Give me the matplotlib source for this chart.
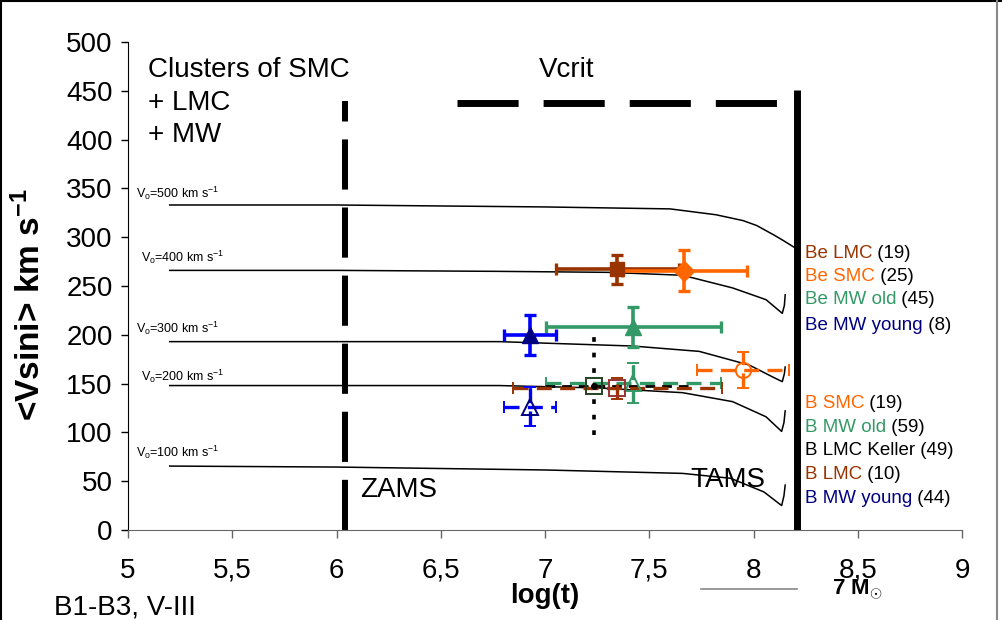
import matplotlib
matplotlib.use("Agg")
import matplotlib.pyplot as plt
from matplotlib.lines import Line2D

plt.rcParams['font.family'] = ['Liberation Sans', 'DejaVu Sans']
plt.rcParams['mathtext.fontset'] = 'custom'
plt.rcParams['mathtext.rm'] = 'Liberation Sans'
plt.rcParams['mathtext.it'] = 'Liberation Sans:italic'
plt.rcParams['mathtext.bf'] = 'Liberation Sans:bold'

# ---------------- data ----------------
x_ticks = [5, 5.5, 6, 6.5, 7, 7.5, 8, 8.5, 9]
x_tick_labels = ["5", "5,5", "6", "6,5", "7", "7,5", "8", "8,5", "9"]
y_ticks = [0, 50, 100, 150, 200, 250, 300, 350, 400, 450, 500]

# rotation model tracks (log t, <v sini>)
track500_t = [5.2, 6.0, 6.5, 7.0, 7.6, 7.82, 7.95, 8.015, 8.1, 8.14, 8.2]
track500_v = [333, 333, 332, 331, 329, 323, 317, 312, 302, 297, 289]
track400_t = [5.2, 6.0, 6.78, 7.3, 7.66, 7.9, 8.06, 8.138, 8.148, 8.152]
track400_v = [266, 266, 265, 264, 261, 248, 236, 222, 230, 241]
track300_t = [5.2, 6.0, 6.78, 7.42, 7.74, 7.98, 8.09, 8.138, 8.148, 8.152]
track300_v = [193, 193, 193, 188.5, 183, 169, 157, 152, 160, 167]
track200_t = [5.2, 6.0, 6.78, 7.26, 7.66, 7.9, 8.06, 8.135, 8.146, 8.152]
track200_v = [148, 148, 148, 145.5, 140.7, 131.5, 116, 101, 110, 122]
track100_t = [5.2, 6.0, 7.0, 7.66, 7.89, 8.05, 8.135, 8.146, 8.152]
track100_v = [65.5, 64.5, 61.5, 58, 53, 39, 25, 35, 46]
track_labels = ["500", "400", "300", "200", "100"]
track_label_t = [5.04, 5.06, 5.04, 5.06, 5.04]
track_label_v = [345, 279, 207, 157, 80]

zams_t = 6.04
zams_top = 440
tams_t = 8.207
tams_top = 451
vcrit_t = [6.58, 8.2]
vcrit_v = [437, 437]

# Be stars (filled markers, solid bars)
be_names = ["Be LMC", "Be SMC", "Be MW old", "Be MW young"]
be_counts = ["(19)", "(25)", "(45)", "(8)"]
be_t = [7.347, 7.668, 7.424, 6.928]
be_v = [267, 265.7, 208.3, 199.8]
be_terr = [0.294, 0.30, 0.42, 0.126]
be_verr = [15, 21, 20.5, 20]

# B stars (open markers, dashed bars)
b_names = ["B SMC", "B MW old", "B LMC Keller", "B LMC", "B MW young"]
b_counts = ["(19)", "(59)", "(49)", "(10)", "(44)"]
b_t = [7.948, 7.424, 7.235, 7.347, 6.928]
b_v = [163.9, 150.3, 147.5, 145, 126.3]
b_terr_lo = [0.22, 0.42, 0.235, 0.50, 0.126]
b_terr_hi = [0.22, 0.42, 0.465, 0.50, 0.126]
b_verr = [18, 20.5, 50, 11, 20]

# ---------------- styles ----------------
BROWN = "#993300"
ORANGE = "#FF6600"
GREEN = "#339966"
NAVY = "#000080"
BLUE = "#0000FF"
RED = "#993333"

fig = plt.figure(figsize=(10.02, 6.2), dpi=100)
ax = fig.add_axes([128/1002, 1-530/620, (962-128)/1002, (530-42)/620])
ax.set_xlim(5, 9)
ax.set_ylim(0, 500)
for s in ["top", "right"]:
    ax.spines[s].set_visible(False)
ax.spines["left"].set_color("black")
ax.spines["bottom"].set_color("#666666")
ax.set_xticks(x_ticks)
ax.set_xticklabels(x_tick_labels)
ax.set_yticks(y_ticks)
ax.tick_params(axis="x", direction="out", length=6, width=1, pad=14,
               labelsize=20, color="#666666")
ax.tick_params(axis="y", direction="out", length=5, width=1, pad=6,
               labelsize=20, color="black")

# tracks
for tt, vv in [(track500_t, track500_v), (track400_t, track400_v),
               (track300_t, track300_v), (track200_t, track200_v),
               (track100_t, track100_v)]:
    ax.plot(tt, vv, color="black", lw=1.1, zorder=2)
for lab, tx, vy in zip(track_labels, track_label_t, track_label_v):
    ax.text(tx, vy, r"V$_\mathrm{o}$=" + lab + r" km s$^{-1}$", fontsize=9,
            va="center", ha="left")

# ZAMS / TAMS / Vcrit lines
ax.plot([zams_t, zams_t], [0, zams_top], color="black", lw=4.3,
        dashes=(8.4, 3.0), solid_capstyle="butt", zorder=2)
ax.plot([tams_t, tams_t], [0, tams_top], color="black", lw=5,
        solid_capstyle="butt", zorder=5)
ax.plot(vcrit_t, vcrit_v, color="black", lw=5, dashes=(8.8, 3.6), zorder=2)

# Be errorbars
be_colors = [BROWN, ORANGE, GREEN, BLUE]
be_mfc = [BROWN, ORANGE, GREEN, NAVY]
be_markers = ["s", "D", "^", "^"]
be_ms = [10, 10, 11, 11]
for i in range(len(be_t)):
    ax.errorbar(be_t[i], be_v[i], xerr=be_terr[i], yerr=be_verr[i],
                fmt=be_markers[i], ms=be_ms[i], mfc=be_mfc[i], mec=be_mfc[i],
                ecolor=be_colors[i], elinewidth=2.6, capsize=4.3, capthick=2.4,
                zorder=4)

# B errorbars
b_colors = [ORANGE, GREEN, "black", BROWN, BLUE]
b_mec = [ORANGE, GREEN, "#224422", RED, NAVY]
b_markers = ["o", "^", "s", "s", "^"]
b_ms = [11, 12, 11, 11, 12]
for i in range(len(b_t)):
    eb = ax.errorbar(b_t[i], b_v[i], xerr=[[b_terr_lo[i]], [b_terr_hi[i]]],
                     yerr=b_verr[i], fmt=b_markers[i], ms=b_ms[i],
                     mfc="none", mec=b_mec[i], mew=1.4,
                     ecolor=b_colors[i], elinewidth=2.4, capsize=4.3,
                     capthick=2.2, zorder=4)
    bars = eb[2]
    if b_names[i] == "B LMC Keller":
        bars[0].set_linestyle((0, (3.5, 2.5)))
        bars[0].set_linewidth(2.0)
        bars[1].set_linestyle((0, (1.3, 3.0)))
        bars[1].set_linewidth(2.6)
        for c in eb[1]:
            c.set_visible(False)
        ax.plot(b_t[i], b_v[i], "o", color="black", ms=4, zorder=5)
    else:
        for b in bars:
            b.set_linestyle((0, (4.5, 2.5)))

# side labels (coloured name + black count)
be_label_v = [283.8, 260.2, 235.7, 210.0]
b_label_v = [130.0, 105.5, 81.0, 56.4, 31.8]
be_txt_colors = [BROWN, ORANGE, GREEN, NAVY]
b_txt_colors = [ORANGE, GREEN, "black", BROWN, NAVY]
for names, counts, ys, cols in [(be_names, be_counts, be_label_v, be_txt_colors),
                                (b_names, b_counts, b_label_v, b_txt_colors)]:
    for nm, ct, yv, col in zip(names, counts, ys, cols):
        t = ax.text(8.247, yv, nm, color=col, fontsize=13.5, va="center",
                    ha="left", clip_on=False)
        ax.annotate(" " + ct, xy=(1, 0.5), xycoords=t, va="center", ha="left",
                    fontsize=13.5, color="black", annotation_clip=False)

# annotations
ax.text(5.096, 471, "Clusters of SMC", fontsize=20, va="center", ha="left")
ax.text(5.096, 437.5, "+ LMC", fontsize=20, va="center", ha="left")
ax.text(5.096, 404.7, "+ MW", fontsize=20, va="center", ha="left")
ax.text(7.105, 471, "Vcrit", fontsize=20, va="center", ha="center")
ax.text(6.113, 41, "ZAMS", fontsize=20, va="center", ha="left")
ax.text(7.695, 51, "TAMS", fontsize=20, va="center", ha="left")

fig.text(30/1002, 1-305/620, r"<Vsini> km s$^{\mathbf{-1}}$", rotation=90,
         fontsize=24, fontweight="bold", ha="center", va="center")
fig.text(545/1002, 1-596/620, "log(t)", fontsize=20, fontweight="bold",
         ha="center", va="center")
fig.text(54/1002, 1-595/620, "B1-B3, V-III", fontsize=20, ha="left", va="top")
fig.text(832/1002, 1-590/620, r"7 M$_{\odot}$", fontsize=16, fontweight="bold",
         ha="left", va="center")
fig.add_artist(Line2D([701/1002, 797/1002], [1-589/620, 1-589/620],
                      color="#888888", lw=1.2))

# figure border
fig.add_artist(Line2D([0, 1], [0.999, 0.999], color="black", lw=1.5))
fig.add_artist(Line2D([0.001, 0.001], [0, 1], color="black", lw=1.5))
fig.add_artist(Line2D([0.995, 0.995], [0, 1], color="#888888", lw=1.5))

fig.savefig("out.png", dpi=100)
